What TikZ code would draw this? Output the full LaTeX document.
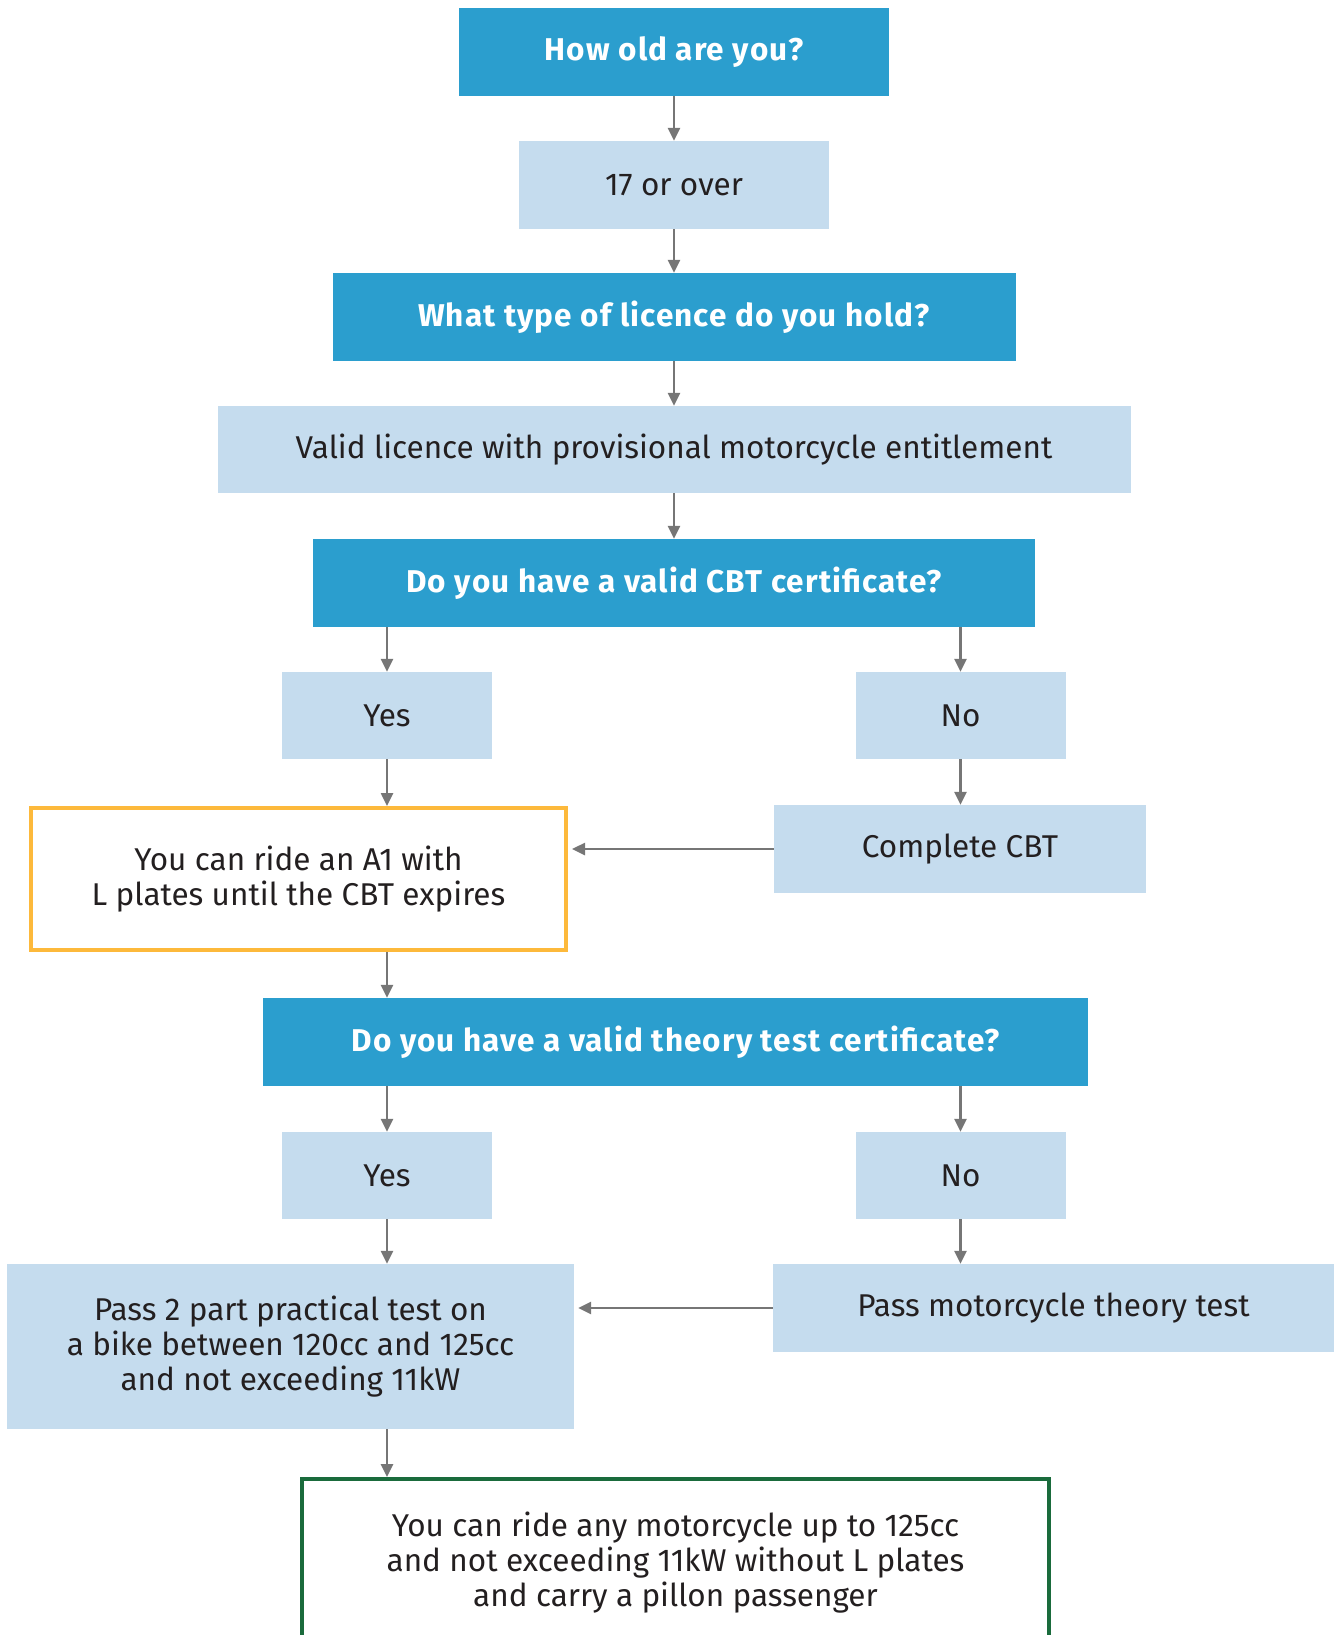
\documentclass[tikz,border=0pt]{standalone}
\usepackage{fontspec}
\setmainfont{Fira Sans}
\newfontfamily\headfont[LetterSpace=3.5]{Fira Sans}
\usetikzlibrary{arrows.meta}

\definecolor{qblue}{HTML}{2B9ECE}
\definecolor{ablue}{HTML}{C5DCEE}
\definecolor{txt}{HTML}{231F20}
\definecolor{arrgray}{HTML}{767676}
\definecolor{okyellow}{HTML}{FDB93B}
\definecolor{endgreen}{HTML}{1A6B3C}

\begin{document}
\begin{tikzpicture}[x=1pt,y=-1pt,
        every node/.style={align=center,inner sep=0pt,text=txt,font=\fontsize{31.5}{35}\selectfont},
        qbox/.style={fill=qblue,minimum height=88pt,text=white,font=\fontsize{31.5}{35}\selectfont\headfont\bfseries},
        abox/.style={fill=ablue,minimum height=88pt},
        okbox/.style={draw=okyellow,line width=4pt,fill=white},
        endbox/.style={draw=endgreen,line width=4pt,fill=white},
        arr/.style={draw=arrgray,line width=2.5pt,-{Triangle[length=13pt,width=12pt]}}]
        \useasboundingbox (0,0) rectangle (1334,1635);

        % questions and answers, centre column
        \node[qbox,minimum width=430pt] (old) at (674,52) {How old are you?};
        \node[abox,minimum width=310pt] (over) at (674,185) {17 or over};
        \node[qbox,minimum width=683pt] (type) at (674,317) {What type of licence do you hold?};
        \node[abox,minimum width=913pt,minimum height=87pt] (valid) at (674,449.5) {Valid licence with provisional motorcycle entitlement};
        \node[qbox,minimum width=722pt] (cbt) at (674,583) {Do you have a valid CBT certificate?};

        % CBT branch
        \node[abox,minimum width=210pt,minimum height=87pt] (yes1) at (387,715.5) {Yes};
        \node[abox,minimum width=210pt,minimum height=87pt] (no1) at (960.5,715.5) {No};
        \node[okbox,minimum width=535pt,minimum height=142pt] (ride) at (298.5,879) {You can ride an A1 with\\L plates until the CBT expires};
        \node[abox,minimum width=372pt] (complete) at (960,849) {Complete CBT};

        % theory branch
        \node[qbox,minimum width=825pt] (theory) at (675.5,1042) {Do you have a valid theory test certificate?};
        \node[abox,minimum width=210pt,minimum height=87pt] (yes2) at (387,1175.5) {Yes};
        \node[abox,minimum width=210pt,minimum height=87pt] (no2) at (960.5,1175.5) {No};
        \node[abox,minimum width=567pt,minimum height=165pt] (pass2) at (290.5,1346.5) {Pass 2 part practical test on\\a bike between 120cc and 125cc\\and not exceeding 11kW};
        \node[abox,minimum width=561pt] (theorytest) at (1053.5,1308) {Pass motorcycle theory test};
        \node[endbox,minimum width=747pt,minimum height=168pt,anchor=north] (final) at (675.5,1477) {You can ride any motorcycle up to 125cc\\and not exceeding 11kW without L plates\\and carry a pillon passenger};

        % connectors
        \foreach \a/\b in {old/over, over/type, type/valid, valid/cbt}
            \draw[arr] (\a.south) -- (\a.south |- \b.north);
        \foreach \a/\b in {cbt/yes1, yes1/ride, ride/theory, theory/yes2, yes2/pass2, pass2/final}
            \draw[arr] (\a.south -| yes1) -- (\b.north -| yes1);
        \foreach \a/\b in {cbt/no1, no1/complete, theory/no2, no2/theorytest}
            \draw[arr] (\a.south -| no1) -- (\b.north -| no1);
        \draw[arr,shorten >=4pt] (complete.west) -- (complete.west -| ride.east);
        \draw[arr,shorten >=4pt] (theorytest.west) -- (theorytest.west -| pass2.east);
    \end{tikzpicture}
\end{document}
